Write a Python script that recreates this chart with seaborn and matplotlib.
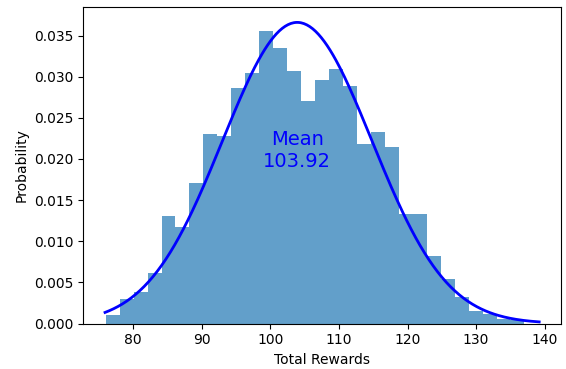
import numpy as np
import pandas as pd
import matplotlib
matplotlib.use("Agg")
import matplotlib.pyplot as plt
import seaborn as sns

# histogram (density) values, 30 equal bins
bin_start = 76.0
bin_end = 137.05
heights = [0.00101, 0.00295, 0.00384, 0.00615, 0.01307, 0.01173, 0.01707, 0.02306,
           0.02282, 0.02864, 0.03042, 0.03560, 0.03350, 0.03070, 0.02700, 0.02960,
           0.03090, 0.02890, 0.02184, 0.02326, 0.02144, 0.01335, 0.01335, 0.00817,
           0.00538, 0.00324, 0.00154, 0.00121, 0.00060, 0.00040]
mean_val = 103.92
std_val = 10.90
curve_start = 75.9
curve_end = 139.2

edges = np.linspace(bin_start, bin_end, len(heights) + 1)
centers = (edges[:-1] + edges[1:]) / 2
df = pd.DataFrame({"reward": centers, "h": heights})

fig = plt.figure(figsize=(5.66, 3.69), dpi=100)
ax = fig.add_axes([0.1472, 0.1233, 0.8438, 0.8568])

sns.histplot(data=df, x="reward", weights="h", bins=len(heights),
             binrange=(bin_start, bin_end), stat="count",
             color="#1f77b4", alpha=0.7, linewidth=0, edgecolor="none", ax=ax)

xs = np.linspace(curve_start, curve_end, 300)
pdf = np.exp(-0.5 * ((xs - mean_val) / std_val) ** 2) / (std_val * np.sqrt(2 * np.pi))
sns.lineplot(x=xs, y=pdf, color="blue", linewidth=2, ax=ax)

ax.text(mean_val, 0.021, f"Mean\n{mean_val:.2f}", color="blue", fontsize=14,
        ha="center", va="center")

ax.set_xlabel("Total Rewards")
ax.set_ylabel("Probability")
ax.set_xticks([80, 90, 100, 110, 120, 130, 140])
ax.margins(x=0.05, y=0.05)
ax.set_ylim(0, pdf.max() * 1.05)

fig.savefig("out.png", dpi=100)
